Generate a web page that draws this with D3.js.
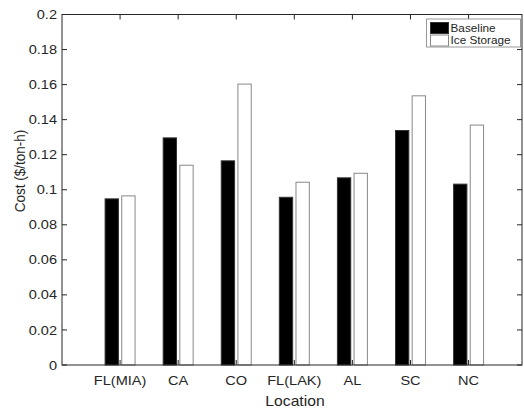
<!DOCTYPE html>
<html>
<head>
<meta charset="utf-8">
<script src="https://cdn.jsdelivr.net/npm/d3@7"></script>
<style>
  body { margin: 0; background: #fff; }
  text { font-family: "Liberation Sans", Arial, sans-serif; fill: #262626; }
</style>
</head>
<body>
<div id="chart"></div>
<script>
let locations = ["FL(MIA)", "CA", "CO", "FL(LAK)", "AL", "SC", "NC"];
let series = ["Baseline", "Ice Storage"];
let baseline = [0.0948, 0.1296, 0.1165, 0.0957, 0.1068, 0.1338, 0.1032];
let iceStorage = [0.0965, 0.1140, 0.1603, 0.1043, 0.1094, 0.1536, 0.1369];
let yTicks = [0, 0.02, 0.04, 0.06, 0.08, 0.1, 0.12, 0.14, 0.16, 0.18, 0.2];

let width = 524, height = 409;
let margin = {top: 14.5, right: 2, bottom: 44, left: 62};
let sx = 1.12; // text in the original is a bit wider than tall

let svg = d3.select("#chart").append("svg")
    .attr("width", width)
    .attr("height", height);

let x = d3.scaleLinear()
    .domain([0, 7.92])
    .range([margin.left, width - margin.right]);

let y = d3.scaleLinear()
    .domain([0, 0.2])
    .range([height - margin.bottom, margin.top]);

// offset inside each group, in x units
let x1 = d3.scaleBand()
    .domain(series)
    .range([-0.258, 0.258])
    .paddingInner(0.2);

let colors = {"Baseline": "#000000", "Ice Storage": "#ffffff"};
let strokes = {"Baseline": "#333333", "Ice Storage": "#888888"};

let rows = locations.map((loc, i) => ({
    loc: loc, pos: i + 1,
    vals: [{s: "Baseline", v: baseline[i]}, {s: "Ice Storage", v: iceStorage[i]}]
}));

let bw = x(x1.bandwidth()) - x(0);

svg.append("g")
  .selectAll("g")
  .data(rows)
  .join("g")
  .selectAll("rect")
  .data(d => d.vals.map(v => ({pos: d.pos, s: v.s, v: v.v})))
  .join("rect")
    .attr("x", d => x(d.pos + x1(d.s)))
    .attr("y", d => y(d.v))
    .attr("width", bw)
    .attr("height", d => y(0) - y(d.v))
    .attr("fill", d => colors[d.s])
    .attr("stroke", d => strokes[d.s])
    .attr("stroke-width", 1);

// box and ticks
let x0 = x.range()[0], xr = x.range()[1];
let yb = y(0), yt = y(0.2);
let axis = svg.append("g").attr("stroke", "#262626").attr("stroke-width", 1);

axis.append("rect")
    .attr("x", x0).attr("y", yt)
    .attr("width", xr - x0).attr("height", yb - yt)
    .attr("fill", "none");

let tl = 5;
locations.forEach((loc, i) => {
    let px = x(i + 1);
    axis.append("line").attr("x1", px).attr("x2", px).attr("y1", yb).attr("y2", yb - tl);
    axis.append("line").attr("x1", px).attr("x2", px).attr("y1", yt).attr("y2", yt + tl);
});
yTicks.forEach(t => {
    let py = y(t);
    axis.append("line").attr("x1", x0).attr("x2", x0 + tl).attr("y1", py).attr("y2", py);
    axis.append("line").attr("x1", xr).attr("x2", xr - tl).attr("y1", py).attr("y2", py);
});

// tick labels
svg.append("g")
  .selectAll("text")
  .data(yTicks)
  .join("text")
    .attr("transform", d => `translate(${x0 - 5},${y(d)}) scale(${sx},1)`)
    .attr("dy", "0.35em")
    .attr("text-anchor", "end")
    .attr("font-size", 13)
    .text(d => d3.format("")(d));

svg.append("g")
  .selectAll("text")
  .data(locations)
  .join("text")
    .attr("transform", (d, i) => `translate(${x(i + 1)},${yb + 20}) scale(${sx},1)`)
    .attr("text-anchor", "middle")
    .attr("font-size", 13)
    .text(d => d);

svg.append("text")
    .attr("transform", `translate(${(x0 + xr) / 2 + 3},${yb + 41}) scale(${sx},1)`)
    .attr("text-anchor", "middle")
    .attr("font-size", 14)
    .text("Location");

svg.append("text")
    .attr("transform", `translate(24.5,171) rotate(-90) scale(1,${sx})`)
    .attr("text-anchor", "middle")
    .attr("font-size", 13.5)
    .text("Cost ($/ton-h)");

// legend
let lg = svg.append("g").attr("transform", "translate(426.5,19)");
lg.append("rect")
    .attr("width", 94).attr("height", 28)
    .attr("fill", "#fff").attr("stroke", "#999");
series.forEach((s, i) => {
    lg.append("rect")
        .attr("x", 4).attr("y", 3.5 + i * 12.5)
        .attr("width", 18).attr("height", 11)
        .attr("fill", colors[s]).attr("stroke", strokes[s]);
    lg.append("text")
        .attr("transform", `translate(24,${9 + i * 12.5}) scale(1.07,1)`)
        .attr("dy", "0.35em")
        .attr("font-size", 11)
        .attr("fill", "#000")
        .text(s);
});
</script>
</body>
</html>
